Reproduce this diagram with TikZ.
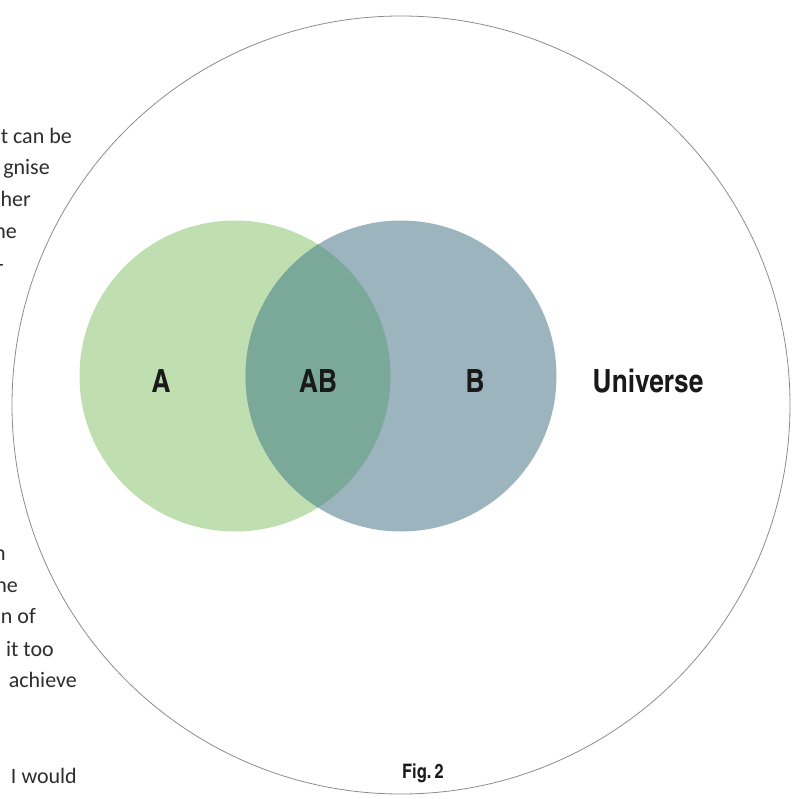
\documentclass[tikz,border=0pt]{standalone}
\usepackage{fontspec}
\setmainfont{Carlito}
\newfontfamily\condfont{TeX Gyre Heros Cn}
\usetikzlibrary{positioning}
\definecolor{setgreen}{RGB}{191,223,176}
\definecolor{setblue}{RGB}{156,180,190}
\definecolor{setboth}{RGB}{123,169,153}
\definecolor{bodygray}{RGB}{45,45,45}
\tikzset{
    universe/.style={
        circle, draw=black!45, line width=0.8pt,
        minimum size=778pt, inner sep=0pt
    },
    setcircle/.style={
        circle, draw=none,
        minimum size=311pt, inner sep=0pt
    },
    setlabel/.style={
        font=\condfont\bfseries\fontsize{32}{32}\selectfont,
        text=black!90, inner sep=0pt
    },
    bodytext/.style={
        font=\fontsize{22}{22}\selectfont,
        text=bodygray, anchor=base east, inner sep=0pt
    }
}
\begin{document}
\begin{tikzpicture}[x=1pt, y=-1pt]
\useasboundingbox (0,0) rectangle (795,799);
\clip (0,0) rectangle (795,799);

% Universe and the two sets
\node[universe] (U) at (401,405) {};
\node[setcircle, fill=setgreen] (A) at (235,376) {};
\node[setcircle, fill=setblue] (B) at (401,376) {};
\begin{scope}
    \clip (A.center) circle (155.5);
    \fill[setboth] (B.center) circle (155.5);
\end{scope}

% Labels
\node[setlabel] (la) at (161,381) {A};
\node[setlabel] (lab) at (318,381) {AB};
\node[setlabel] (lb) at (475,381) {B};
\node[setlabel] (lu) at (648,381) {Universe};
\node[setlabel, font=\condfont\bfseries\fontsize{20}{20}\selectfont] (fig) at (423,773) {Fig.\,2};

% Page text cut off at the left
\node[bodytext] (t1) at (72,144) {t can be};
\node[bodytext] (t2) at (50,175) {gnise};
\node[bodytext] (t3) at (31,207) {her};
\node[bodytext] (t4) at (17,239) {ne};
\node[bodytext] (t5) at (4,271) {-};
\node[bodytext] (t6) at (6,560) {n};
\node[bodytext] (t7) at (18,592) {ne};
\node[bodytext] (t8) at (36,623) {n of};
\node[bodytext] (t9) at (54,656) {it too};
\node[bodytext] (t10) at (77,687) {achieve};
\node[bodytext] (t11) at (77,783) {I would};

\end{tikzpicture}
\end{document}
